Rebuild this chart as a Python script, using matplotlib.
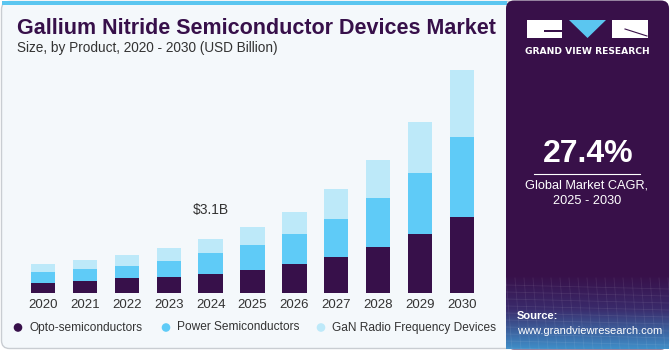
import numpy as np
import matplotlib.pyplot as plt
from matplotlib.patches import FancyBboxPatch, Rectangle, Polygon, Circle

# Datos (USD Billion)
years = ["2020", "2021", "2022", "2023", "2024", "2025", "2026", "2027", "2028", "2029", "2030"]
opto = [0.61, 0.71, 0.86, 0.94, 1.11, 1.34, 1.66, 2.10, 2.64, 3.40, 4.38]
power = [0.61, 0.71, 0.72, 0.92, 1.19, 1.44, 1.74, 2.16, 2.83, 3.52, 4.59]
gan = [0.46, 0.48, 0.61, 0.75, 0.80, 1.02, 1.28, 1.70, 2.16, 2.89, 3.83]
series_names = ["Opto-semiconductors", "Power Semiconductors", "GaN Radio Frequency Devices"]
label_year = "2024"
label_text = "$3.1B"

c_opto = "#37104A"
c_power = "#5FCBF7"
c_gan = "#BDE9F9"
c_panel = "#381049"
c_bg = "#F4F8FB"

W, H = 670, 350
fig = plt.figure(figsize=(6.7, 3.5), dpi=100)
fig.patch.set_facecolor("white")

# capa de fondo en pixeles
bg = fig.add_axes([0, 0, 1, 1])
bg.set_xlim(0, W)
bg.set_ylim(H, 0)
bg.axis("off")

bg.add_patch(FancyBboxPatch((1.5, 1.5), W - 3, H - 3, boxstyle="round,pad=0,rounding_size=8",
                            facecolor=c_bg, edgecolor="#C9CDD2", lw=1))
bg.add_patch(Rectangle((1.5, 0.5), 505, 4.5, facecolor="#5BC6F0", edgecolor="none"))

# panel derecho
bg.add_patch(FancyBboxPatch((506, 0.5), 163, 349, boxstyle="round,pad=0,rounding_size=8",
                            facecolor=c_panel, edgecolor="none"))
grad = np.linspace(0, 1, 100)[:, None]
cols = np.array([[0x38, 0x10, 0x49], [0x3A, 0x2A, 0x6A], [0x3F, 0x8E, 0xC8]]) / 255
t = grad[:, 0]
img = np.zeros((100, 1, 3))
for k in range(3):
    img[:, 0, k] = np.interp(t, [0, 0.45, 1], cols[:, k])
bg.imshow(img, extent=(506, 669, 349, 275), aspect="auto", zorder=2)
for yy in np.arange(285, 349, 7):
    bg.plot([506, 669], [yy, yy + 4], color="white", alpha=0.08, lw=0.6, zorder=3)
for xx in np.arange(506, 669, 9):
    bg.plot([xx, xx + 6], [278, 349], color="white", alpha=0.08, lw=0.6, zorder=3)

# logo
bg.add_patch(Rectangle((527, 20), 35, 17.5, facecolor="white", edgecolor="none", zorder=4))
bg.add_patch(Rectangle((544, 30), 18, 2, facecolor=c_panel, edgecolor="none", zorder=5))
bg.add_patch(Polygon([(569, 20), (606, 20), (587.5, 38)], closed=True, facecolor="#5BC6F0",
                     edgecolor="none", zorder=4))
bg.add_patch(Rectangle((612, 20), 36, 17.5, facecolor="white", edgecolor="none", zorder=4))
bg.plot([625, 647], [29, 36], color=c_panel, lw=0.8, zorder=5)
bg.text(587.5, 51, "GRAND VIEW RESEARCH", color="white", fontsize=6.6, fontweight="bold",
        ha="center", va="center", family="DejaVu Sans", zorder=5)

bg.text(588, 154, "27.4%", color="white", fontsize=23, fontweight="bold",
        ha="center", va="center", family="Liberation Sans", zorder=5)
bg.plot([534, 640], [173.5, 173.5], color="white", lw=0.8, zorder=5)
bg.text(587, 186, "Global Market CAGR,", color="white", fontsize=9.2,
        ha="center", va="center", family="Liberation Sans", zorder=5)
bg.text(587, 201, "2025 - 2030", color="white", fontsize=9.2,
        ha="center", va="center", family="Liberation Sans", zorder=5)
bg.text(517, 316, "Source:", color="white", fontsize=8, fontweight="bold",
        ha="left", va="center", family="Liberation Sans", zorder=5)
bg.text(517, 331, "www.grandviewresearch.com", color="white", fontsize=8,
        ha="left", va="center", family="Liberation Sans", zorder=5)

# titulos
bg.text(17, 28, "Gallium Nitride Semiconductor Devices Market", color=c_opto, fontsize=15.5,
        fontweight="heavy", ha="left", va="center", family="Liberation Sans")
bg.text(17, 48, "Size, by Product, 2020 - 2030 (USD Billion)", color="#333333", fontsize=9.8,
        ha="left", va="center", family="Liberation Sans")

# grafico de barras
x0, x1 = 22, 483
base = 293.3
ppu = 17.42
ymax = 13.0
ax = fig.add_axes([x0 / W, (H - base) / H, (x1 - x0) / W, ymax * ppu / H])
ax.set_facecolor("none")
x = np.arange(len(years))
w = 0.58
ax.bar(x, opto, w, color=c_opto, edgecolor="none")
ax.bar(x, power, w, bottom=opto, color=c_power, edgecolor="none")
ax.bar(x, gan, w, bottom=np.array(opto) + np.array(power), color=c_gan, edgecolor="none")
ax.set_xlim(-0.5, len(years) - 0.5)
ax.set_ylim(0, ymax)
for s in ax.spines.values():
    s.set_visible(False)
ax.set_yticks([])
ax.set_xticks(x)
ax.set_xticklabels(years, fontsize=9.5, color="#333333", family="Liberation Sans")
ax.tick_params(axis="x", length=0, pad=4)

i = years.index(label_year)
tot = opto[i] + power[i] + gan[i]
ax.annotate(label_text, (x[i], tot), xytext=(0, 21), textcoords="offset points",
            ha="center", va="center", fontsize=10, color="#333333", family="Liberation Sans")

# leyenda
leg_x = [18, 166, 321]
for lx, name, c in zip(leg_x, series_names, [c_opto, c_power, c_gan]):
    bg.add_patch(Circle((lx, 327.5), 4.3, facecolor=c, edgecolor="none"))
    bg.text(lx + 11, 327.5, name, color="#333333", fontsize=8.6, ha="left", va="center",
            family="Liberation Sans")

fig.savefig("out.png", dpi=100, facecolor=fig.get_facecolor())
